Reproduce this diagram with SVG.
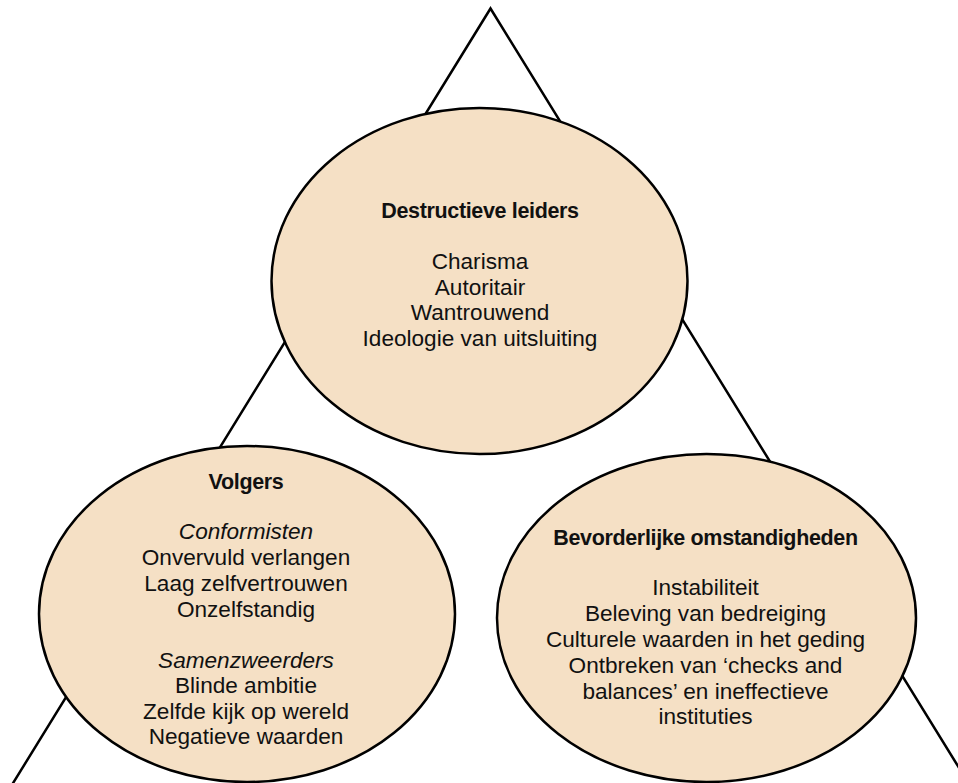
<svg xmlns="http://www.w3.org/2000/svg" width="958" height="783" viewBox="0 0 958 783">
<style>
.node ellipse{fill:#F5E0C5;stroke:#000;stroke-width:2.5}
.conn{fill:none;stroke:#000;stroke-width:2.5;stroke-linejoin:miter}
text{font-family:"Liberation Sans",Arial,sans-serif;font-size:22.6px;fill:#111;text-anchor:middle}
.b{font-weight:bold;font-size:21.5px;letter-spacing:-0.35px}
.i{font-style:italic}
</style>
<rect width="958" height="783" fill="#fff"/>
<g id="connectors">
<polyline class="conn" points="12.5,784 490.5,8.5 969,784"/>
</g>
<g id="node-leiders" class="node">
<ellipse cx="479.5" cy="281" rx="208" ry="173"/>
<text class="b" x="480" y="218">Destructieve leiders</text>
<text x="480" y="269">Charisma</text>
<text x="480" y="294.5">Autoritair</text>
<text x="480" y="320">Wantrouwend</text>
<text x="480" y="345.5">Ideologie van uitsluiting</text>
</g>
<g id="node-volgers" class="node">
<ellipse cx="247" cy="614" rx="208" ry="168"/>
<text class="b" x="246" y="488.5">Volgers</text>
<text class="i" x="246" y="539">Conformisten</text>
<text x="246" y="565">Onvervuld verlangen</text>
<text x="246" y="591">Laag zelfvertrouwen</text>
<text x="246" y="617">Onzelfstandig</text>
<text class="i" x="246" y="667.5">Samenzweerders</text>
<text x="246" y="693">Blinde ambitie</text>
<text x="246" y="718.5">Zelfde kijk op wereld</text>
<text x="246" y="744">Negatieve waarden</text>
</g>
<g id="node-omstandigheden" class="node">
<ellipse cx="706.5" cy="618" rx="209.5" ry="164"/>
<text class="b" x="705.5" y="544.5">Bevorderlijke omstandigheden</text>
<text x="705.5" y="595">Instabiliteit</text>
<text x="705.5" y="621">Beleving van bedreiging</text>
<text x="705.5" y="647">Culturele waarden in het geding</text>
<text x="705.5" y="673">Ontbreken van ‘checks and</text>
<text x="705.5" y="698.5">balances’ en ineffectieve</text>
<text x="705.5" y="724">instituties</text>
</g>
</svg>
